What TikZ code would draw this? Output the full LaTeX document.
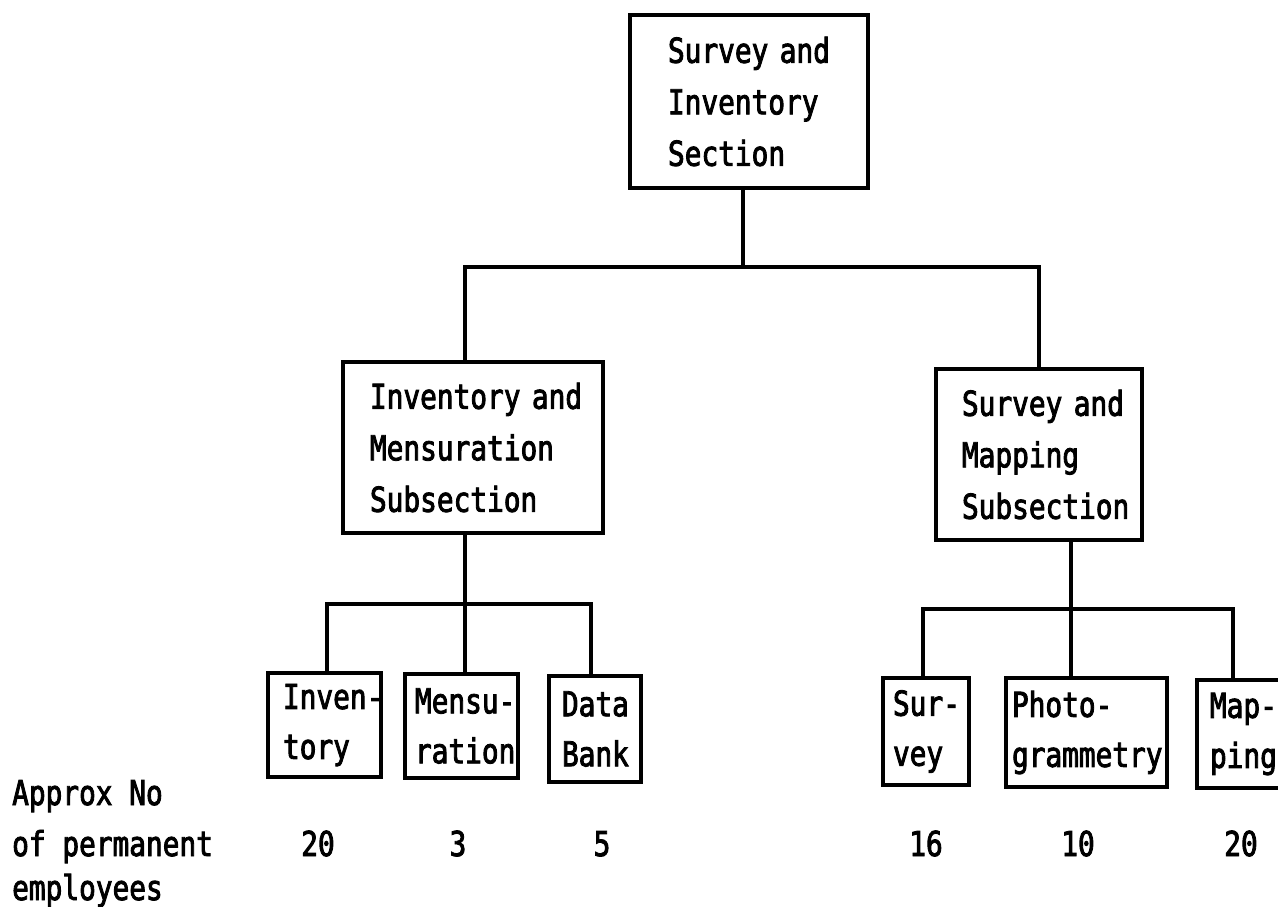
\documentclass[tikz,border=0pt]{standalone}
\usepackage{fontspec}
\newfontfamily\tw[FakeStretch=0.81,FakeBold=2.5]{DejaVu Sans Mono}
\newcommand\bigtw{\tw\fontsize{34.3}{51.5}\selectfont}
\newcommand\leaftw{\tw\fontsize{34.3}{50}\selectfont}
\tikzset{
  box/.style={draw, line width=3.5pt, inner sep=0pt, align=left, font=\bigtw},
  leaf/.style={draw, line width=3.5pt, inner sep=0pt, align=left, font=\leaftw},
  conn/.style={draw, line width=3.5pt},
  lab/.style={inner sep=0pt, font=\leaftw},
}
\begin{document}
\begin{tikzpicture}[x=1pt,y=-1pt]
\useasboundingbox (0,0) rectangle (1278,906);
\fill[white] (0,0) rectangle (1278,906);

% boxes
\node[box, minimum width=238, minimum height=173, text width=162] (top) at (749,101.5) {\mbox{Survey and}\\\mbox{Inventory}\\\mbox{Section}};
\node[box, minimum width=260, minimum height=171, text width=206] (isub) at (473,447.5) {\mbox{Inventory and}\\\mbox{Mensuration}\\\mbox{Subsection}};
\node[box, minimum width=206, minimum height=171, text width=154] (ssub) at (1039,454.5) {\mbox{Survey and}\\\mbox{Mapping}\\\mbox{Subsection}};

\node[leaf, minimum width=113, minimum height=104, text width=83] (inv) at (324.5,725) {\mbox{Inven-}\\\mbox{tory}};
\node[leaf, minimum width=113, minimum height=104, text width=93] (men) at (461.5,726) {\mbox{Mensu-}\\\mbox{ration}};
\node[leaf, minimum width=92, minimum height=106, text width=66] (dat) at (595,729) {\mbox{Data}\\\mbox{Bank}};
\node[leaf, minimum width=86, minimum height=107, text width=66] (sur) at (926,731.5) {\mbox{Sur-}\\\mbox{vey}};
\node[leaf, minimum width=161, minimum height=109, text width=149] (pho) at (1086.5,732.5) {\mbox{Photo-}\\\mbox{grammetry}};
\node[leaf, minimum width=103, minimum height=108, text width=77] (map) at (1248.5,734) {\mbox{Map-}\\\mbox{ping}};

% connectors
\coordinate (b0) at (465,267);
\coordinate (b1) at (1039,267);
\draw[conn] (top.south -| 743,0) -- (743,267);
\draw[conn] (isub.north -| b0) -- (b0) -- (b1) -- (ssub.north -| b1);

\coordinate (c0) at (327,604);
\coordinate (c1) at (465,604);
\coordinate (c2) at (591,604);
\draw[conn] (isub.south -| c1) -- (c1);
\draw[conn] (inv.north -| c0) -- (c0) -- (c2) -- (dat.north -| c2);
\draw[conn] (c1) -- (men.north -| c1);

\coordinate (d0) at (923,609);
\coordinate (d1) at (1071,609);
\coordinate (d2) at (1233,609);
\draw[conn] (ssub.south -| d1) -- (d1);
\draw[conn] (sur.north -| d0) -- (d0) -- (d2) -- (map.north -| d2);
\draw[conn] (d1) -- (pho.north -| d1);

% labels
\node[lab, anchor=base west] (l1) at (12,805) {Approx No};
\node[lab, anchor=base west] (l2) at (12,856) {of permanent};
\node[lab, anchor=base west] (l3) at (12,900) {employees};
\node[lab, anchor=base] (n1) at (318,856) {20};
\node[lab, anchor=base] (n2) at (458,856) {3};
\node[lab, anchor=base] (n3) at (602,856) {5};
\node[lab, anchor=base] (n4) at (926,856) {16};
\node[lab, anchor=base] (n5) at (1078,856) {10};
\node[lab, anchor=base] (n6) at (1241,856) {20};
\end{tikzpicture}
\end{document}
